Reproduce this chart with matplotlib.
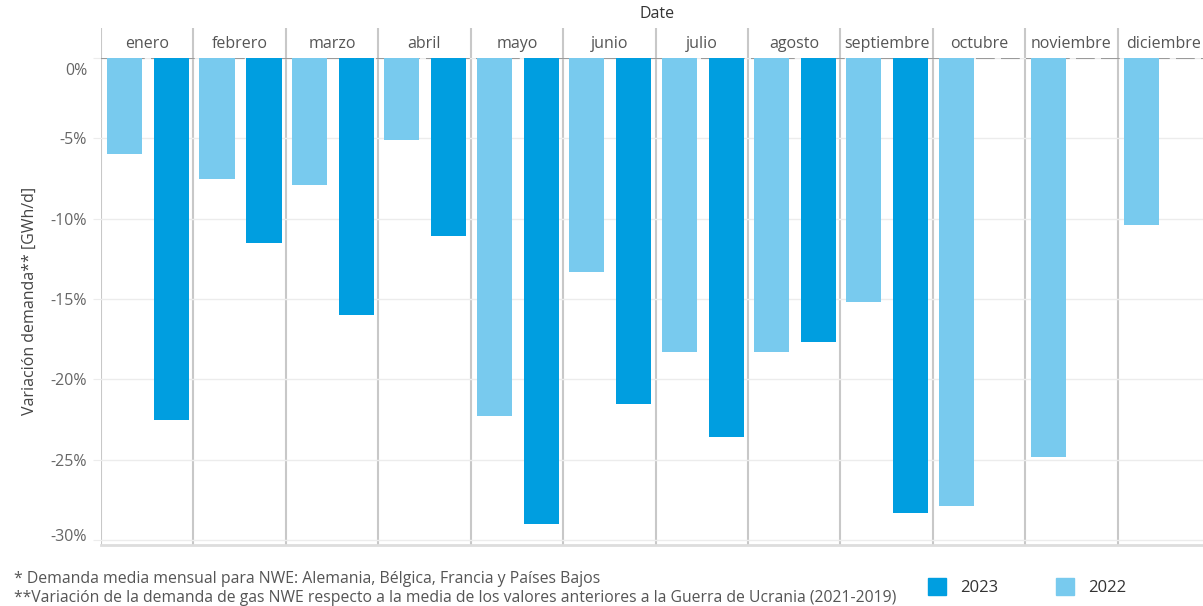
import numpy as np
import matplotlib
matplotlib.use("Agg")
import matplotlib.pyplot as plt
import matplotlib.transforms as mtransforms
from matplotlib.patches import Patch

# Data (variation in %)
months = ["enero", "febrero", "marzo", "abril", "mayo", "junio", "julio",
          "agosto", "septiembre", "octubre", "noviembre", "diciembre"]
v2022 = [-6.0, -7.5, -7.9, -5.1, -22.3, -13.3, -18.3, -18.3, -15.2, -27.9, -24.8, -10.4]
v2023 = [-22.5, -11.5, -16.0, -11.1, -29.0, -21.5, -23.6, -17.7, -28.3, np.nan, np.nan, np.nan]
yticks = [0, -5, -10, -15, -20, -25, -30]
ytick_labels = ["0%", "-5%", "-10%", "-15%", "-20%", "-25%", "-30%"]

C2022 = "#78CAEE"
C2023 = "#009EE0"
SEP = "#c8c8c8"

plt.rcParams["font.family"] = ["Open Sans", "DejaVu Sans"]

W, H = 1203, 606
fig = plt.figure(figsize=(W / 100, H / 100), dpi=100)

# pixel geometry -> figure coords
x0, x1 = 101, 1210
y_top, y_bot, y_head = 58, 545, 28
ax = fig.add_axes([x0 / W, 1 - y_bot / H, (x1 - x0) / W, (y_bot - y_top) / H])
axh = fig.add_axes([x0 / W, 1 - y_top / H, (x1 - x0) / W, (y_top - y_head) / H])

x = np.arange(len(months))
ax.bar(x + 0.255, v2022, width=0.38, color=C2022, zorder=3)
ax.bar(x + 0.764, v2023, width=0.38, color=C2023, zorder=3)

ax.set_xlim(0, len(months))
ax.set_ylim(-30.3, 0)
ax.set_yticks(yticks)
ax.set_yticklabels(ytick_labels)
ax.set_xticks([])
ax.tick_params(axis="y", length=6, color="#ececec", labelsize=11.5,
               labelcolor="#666666", pad=4)
# first and last labels are nudged inside the plot area, as in the original
tl = ax.get_yticklabels()
tl[0].set_transform(tl[0].get_transform() +
                    mtransforms.ScaledTranslation(0, -11 / 100, fig.dpi_scale_trans))
tl[-1].set_transform(tl[-1].get_transform() +
                     mtransforms.ScaledTranslation(0, 5 / 100, fig.dpi_scale_trans))
ax.grid(axis="y", color="#ececec", linewidth=1, zorder=0)
for s in ["top", "right", "left"]:
    ax.spines[s].set_visible(False)
ax.spines["bottom"].set_color("#dddddd")
ax.spines["bottom"].set_linewidth(2)
for xv in range(len(months) + 1):
    ax.axvline(xv, color=SEP, linewidth=1.5, zorder=1)
ax.axhline(0, color="#9a9a9a", linewidth=1.5, dashes=(9, 3), zorder=2)

# header row with month names
axh.set_xlim(0, len(months))
axh.set_ylim(0, 1)
axh.axis("off")
for xv in range(len(months) + 1):
    axh.axvline(xv, color=SEP, linewidth=1.5)
for i, m in enumerate(months):
    axh.text(i + 0.5, 0.45, m, ha="center", va="center", fontsize=11.5,
             color="#555555")

fig.text(657 / W, 1 - 14 / H, "Date", ha="center", va="center",
         fontsize=11.5, color="#333333")
fig.text(30 / W, 1 - 301 / H, "Variación demanda** [GWh/d]", rotation=90,
         ha="center", va="center", fontsize=11.5, color="#444444")

fig.text(14 / W, 1 - 579 / H,
         "* Demanda media mensual para NWE: Alemania, Bélgica, Francia y Países Bajos",
         ha="left", va="center", fontsize=11.4, color="#555555")
fig.text(14 / W, 1 - 598 / H,
         "**Variación de la demanda de gas NWE respecto a la media de los valores "
         "anteriores a la Guerra de Ucrania (2021-2019)",
         ha="left", va="center", fontsize=11.3, color="#555555")

handles = [Patch(color=C2023), Patch(color=C2022)]
fig.legend(handles, ["2023", "2022"], loc="center left",
           bbox_to_anchor=(913 / W, 1 - 587 / H), ncol=2, frameon=False,
           fontsize=12, handlelength=1.1, handleheight=1.2,
           handletextpad=0.8, columnspacing=3.5, labelcolor="#333333")

fig.savefig("out.png", dpi=100)
